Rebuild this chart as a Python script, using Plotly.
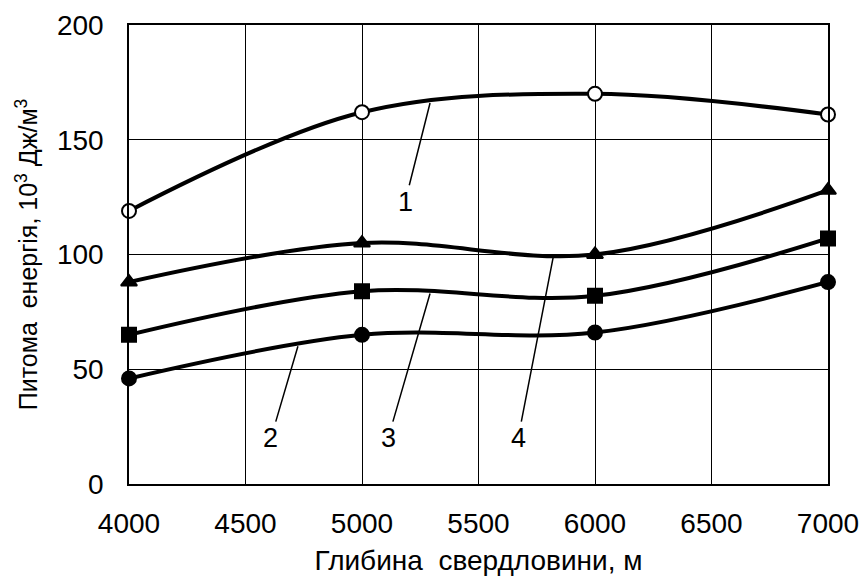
import plotly.graph_objects as go

depth = [4000, 5000, 6000, 7000]
s1 = [119, 162, 170, 161]   # open circles
s4 = [88, 105, 100, 128]    # triangles
s3 = [65, 84, 82, 107]      # squares
s2 = [46, 65, 66, 88]       # filled circles

x_ticks = [4000, 4500, 5000, 5500, 6000, 6500, 7000]
y_ticks = [0, 50, 100, 150, 200]

# curve labels: (text, text_x, text_y, point_x, point_y)
labels = [
    ("1", 5185, 123, 5292, 166),
    ("2", 4609, 20, 4725, 60),
    ("3", 5112, 20, 5292, 83),
    ("4", 5670, 20, 5820, 98.5),
]

FONT = "Liberation Sans, Arial, sans-serif"
fig = go.Figure()

def add(y, symbol, fill):
    fig.add_trace(go.Scatter(
        x=depth, y=y, mode="lines+markers",
        line=dict(color="black", width=4, shape="spline", smoothing=1.0),
        marker=dict(symbol=symbol, size=14,
                    color=("black" if fill else "white"),
                    line=dict(color="black", width=2)),
        showlegend=False, cliponaxis=False))

add(s1, "circle", False)
add(s4, "triangle-up", True)
add(s3, "square", True)
add(s2, "circle", True)

for t, tx, ty, px, py in labels:
    fig.add_annotation(x=px, y=py, ax=tx, ay=ty, xref="x", yref="y",
                       axref="x", ayref="y", text=t, showarrow=True,
                       arrowhead=0, arrowwidth=1.5, arrowcolor="black",
                       standoff=0, startstandoff=0,
                       font=dict(family=FONT, size=27, color="black"))

fig.update_xaxes(range=[4000, 7000], tickvals=x_ticks, showgrid=True,
                 gridcolor="black", gridwidth=1, showline=True, linecolor="black",
                 linewidth=1.5, mirror=True, zeroline=False, ticks="",
                 ticklabelstandoff=14, automargin=False,
                 title=dict(text="Глибина  свердловини, м", standoff=12,
                            font=dict(family=FONT, size=28, color="black")),
                 tickfont=dict(family=FONT, size=28, color="black"))
fig.update_yaxes(range=[0, 200], tickvals=y_ticks, showgrid=True,
                 gridcolor="black", gridwidth=1, showline=True, linecolor="black",
                 linewidth=1.5, mirror=True, zeroline=False, ticks="",
                 ticklabelstandoff=18, automargin=False,
                 title=dict(text="Питома  енергія, 10<sup>3</sup> Дж/м<sup>3</sup>",
                            standoff=12,
                            font=dict(family=FONT, size=25, color="black")),
                 tickfont=dict(family=FONT, size=28, color="black"))

fig.update_layout(width=861, height=588,
                  margin=dict(l=129, r=33, t=25, b=104),
                  plot_bgcolor="white", paper_bgcolor="white")

fig.write_html("out.html")
